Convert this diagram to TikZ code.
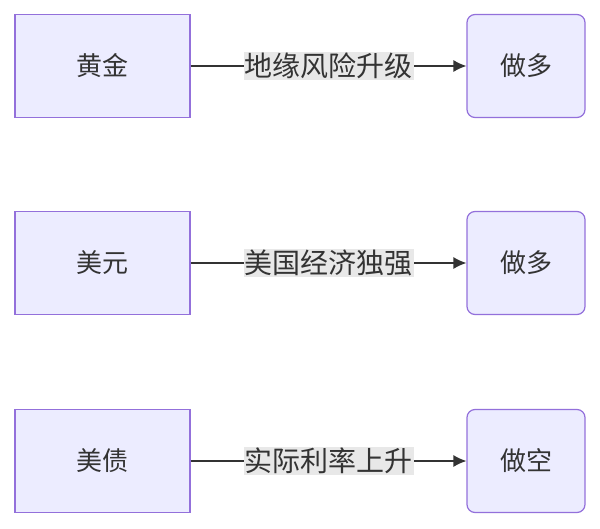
\documentclass[tikz,border=0pt]{standalone}
\usepackage{fontspec}
\setmainfont{Noto Sans CJK SC}
\usetikzlibrary{arrows.meta}
\begin{document}
\begin{tikzpicture}[x=1pt,y=-1pt,
 box/.style={draw={rgb,255:red,147;green,112;blue,219},fill={rgb,255:red,236;green,236;blue,255},line width=1.2pt,minimum width=175pt,minimum height=103pt,font=\fontsize{26}{30}\selectfont,inner sep=0pt,text=black!80},
 rbox/.style={box,rounded corners=8pt,minimum width=118pt},
 lab/.style={fill={rgb,255:red,232;green,232;blue,232},font=\fontsize{28}{32}\selectfont,inner sep=1pt,text=black!80},
 arr/.style={draw=black!80,line width=1.3pt,-{Latex[length=13pt,width=12pt]}}]
\useasboundingbox (0,0) rectangle (600,528);
\foreach \y/\a/\l/\b/\n in {66/黄金/地缘风险升级/做多/1,263/美元/美国经济独强/做多/2,461/美债/实际利率上升/做空/3}{
 \node[box] (L\n) at (102.5,\y) {\a};
 \node[rbox] (R\n) at (526,\y) {\b};
 \draw[arr] (L\n) -- node[lab] (T\n) {\l} (R\n);
}
\end{tikzpicture}
\end{document}
